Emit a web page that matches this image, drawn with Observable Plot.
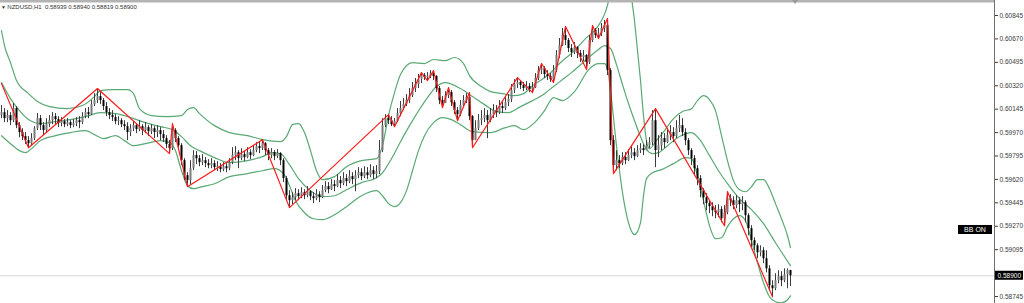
<!DOCTYPE html>
<html><head><meta charset="utf-8">
<script src="https://cdn.jsdelivr.net/npm/d3@7"></script>
<script src="https://cdn.jsdelivr.net/npm/@observablehq/plot@0.6"></script>
<style>html,body{margin:0;padding:0;background:#fff;overflow:hidden}#chart svg{display:block}</style>
</head><body><div id="chart"></div>
<script>
const symbol = "NZDUSD,H1";
const indicatorLabel = "BB ON";
const lastBar = {open: 0.58939, high: 0.58940, low: 0.58819, close: 0.58900};
const firstOpen = 0.60100;

const closes = [
0.60119,0.60074,0.60097,0.60059,0.60149,0.60022,0.59970,0.59940,0.59910,0.59887,
0.59925,0.59999,0.60074,0.60022,0.59985,0.60029,0.60059,0.60089,0.60067,0.60037,
0.60052,0.60029,0.60044,0.60022,0.60037,0.60059,0.60044,0.60089,0.60119,0.60104,
0.60179,0.60209,0.60239,0.60209,0.60164,0.60119,0.60097,0.60082,0.60052,0.60059,
0.60029,0.60014,0.59970,0.59999,0.60022,0.59992,0.60014,0.59985,0.60007,0.59977,
0.59999,0.59970,0.59985,0.59955,0.59925,0.59880,0.59850,0.59985,0.59925,0.59872,
0.59760,0.59648,0.59611,0.59700,0.59798,0.59775,0.59745,0.59760,0.59738,0.59723,
0.59738,0.59708,0.59715,0.59693,0.59715,0.59700,0.59745,0.59798,0.59820,0.59775,
0.59805,0.59783,0.59820,0.59798,0.59835,0.59865,0.59850,0.59887,0.59835,0.59798,
0.59820,0.59790,0.59813,0.59760,0.59626,0.59498,0.59461,0.59483,0.59513,0.59491,
0.59521,0.59498,0.59528,0.59491,0.59476,0.59506,0.59483,0.59536,0.59566,0.59543,
0.59581,0.59566,0.59611,0.59588,0.59626,0.59603,0.59641,0.59618,0.59648,0.59670,
0.59641,0.59670,0.59648,0.59685,0.59656,0.59678,0.59835,0.60022,0.60074,0.60059,
0.60029,0.60052,0.60112,0.60149,0.60179,0.60209,0.60246,0.60299,0.60329,0.60366,
0.60396,0.60381,0.60389,0.60411,0.60389,0.60299,0.60209,0.60187,0.60246,0.60269,
0.60194,0.60134,0.60104,0.60172,0.60209,0.60231,0.60089,0.59910,0.59999,0.60059,
0.60074,0.60097,0.60059,0.60104,0.60134,0.60119,0.60164,0.60149,0.60194,0.60217,
0.60284,0.60329,0.60344,0.60321,0.60299,0.60314,0.60291,0.60306,0.60374,0.60433,
0.60448,0.60404,0.60389,0.60366,0.60433,0.60546,0.60620,0.60695,0.60658,0.60598,
0.60568,0.60605,0.60561,0.60531,0.60546,0.60493,0.60658,0.60733,0.60695,0.60710,
0.60748,0.60770,0.60433,0.59910,0.59723,0.59760,0.59738,0.59783,0.59760,0.59798,
0.59820,0.59790,0.59835,0.59850,0.59835,0.59872,0.59895,0.60059,0.59835,0.59872,
0.59925,0.59895,0.59947,0.59970,0.59940,0.59999,0.60022,0.59970,0.59910,0.59835,
0.59775,0.59700,0.59626,0.59536,0.59483,0.59439,0.59416,0.59386,0.59371,0.59394,
0.59326,0.59371,0.59476,0.59461,0.59424,0.59461,0.59431,0.59446,0.59349,0.59252,
0.59162,0.59124,0.59072,0.59087,0.59027,0.58952,0.58825,0.58803,0.58863,0.58893,
0.58863,0.58907,0.58939,0.58900];

const highs = [
0.60172,0.60149,0.60134,0.60119,0.60187,0.60164,0.60044,0.59999,0.59970,0.59940,
0.59962,0.60014,0.60112,0.60097,0.60044,0.60074,0.60097,0.60119,0.60112,0.60089,
0.60082,0.60067,0.60074,0.60059,0.60067,0.60082,0.60089,0.60119,0.60149,0.60157,
0.60209,0.60261,0.60299,0.60269,0.60224,0.60194,0.60149,0.60134,0.60104,0.60089,
0.60074,0.60059,0.60044,0.60029,0.60052,0.60037,0.60059,0.60029,0.60044,0.60022,
0.60029,0.60014,0.60022,0.60007,0.59985,0.59947,0.59910,0.60037,0.59999,0.59940,
0.59887,0.59775,0.59670,0.59760,0.59835,0.59828,0.59798,0.59805,0.59783,0.59768,
0.59775,0.59760,0.59753,0.59738,0.59745,0.59738,0.59775,0.59857,0.59865,0.59835,
0.59850,0.59828,0.59857,0.59842,0.59872,0.59895,0.59902,0.59917,0.59895,0.59850,
0.59850,0.59835,0.59842,0.59820,0.59775,0.59641,0.59536,0.59521,0.59551,0.59543,
0.59558,0.59543,0.59566,0.59536,0.59521,0.59543,0.59528,0.59573,0.59603,0.59596,
0.59618,0.59611,0.59656,0.59641,0.59670,0.59656,0.59685,0.59670,0.59685,0.59708,
0.59700,0.59715,0.59708,0.59730,0.59715,0.59723,0.59910,0.60074,0.60104,0.60104,
0.60089,0.60074,0.60149,0.60202,0.60224,0.60254,0.60299,0.60344,0.60374,0.60404,
0.60418,0.60411,0.60418,0.60433,0.60433,0.60396,0.60314,0.60239,0.60276,0.60306,
0.60284,0.60209,0.60157,0.60209,0.60246,0.60261,0.60269,0.60097,0.60059,0.60104,
0.60134,0.60149,0.60134,0.60149,0.60179,0.60172,0.60209,0.60202,0.60231,0.60254,
0.60329,0.60366,0.60381,0.60359,0.60344,0.60351,0.60336,0.60344,0.60411,0.60463,
0.60486,0.60463,0.60433,0.60411,0.60471,0.60583,0.60673,0.60748,0.60762,0.60673,
0.60628,0.60643,0.60613,0.60583,0.60583,0.60553,0.60695,0.60770,0.60748,0.60748,
0.60785,0.60807,0.60822,0.60448,0.59947,0.59835,0.59798,0.59820,0.59820,0.59842,
0.59865,0.59850,0.59872,0.59887,0.59880,0.59910,0.59932,0.60134,0.60149,0.59947,
0.59970,0.59962,0.59999,0.60022,0.60007,0.60059,0.60097,0.60074,0.59999,0.59925,
0.59850,0.59798,0.59723,0.59648,0.59551,0.59513,0.59461,0.59446,0.59424,0.59431,
0.59416,0.59424,0.59528,0.59506,0.59491,0.59498,0.59483,0.59491,0.59461,0.59364,
0.59274,0.59184,0.59139,0.59124,0.59110,0.59087,0.58975,0.58863,0.58915,0.58937,
0.58930,0.58952,0.58952,0.58940];

const lows = [
0.60074,0.60044,0.60044,0.60022,0.60044,0.59999,0.59932,0.59910,0.59880,0.59857,
0.59872,0.59910,0.59985,0.59985,0.59947,0.59970,0.60007,0.60029,0.60029,0.60007,
0.60014,0.60007,0.60014,0.59999,0.60007,0.60014,0.59999,0.60029,0.60074,0.60074,
0.60097,0.60164,0.60187,0.60179,0.60134,0.60089,0.60067,0.60052,0.60029,0.60022,
0.60007,0.59985,0.59910,0.59940,0.59977,0.59962,0.59977,0.59947,0.59962,0.59940,
0.59955,0.59925,0.59932,0.59910,0.59895,0.59850,0.59813,0.59835,0.59895,0.59835,
0.59723,0.59611,0.59566,0.59581,0.59685,0.59730,0.59715,0.59723,0.59708,0.59700,
0.59700,0.59685,0.59678,0.59670,0.59678,0.59670,0.59685,0.59730,0.59760,0.59700,
0.59760,0.59753,0.59775,0.59768,0.59790,0.59820,0.59813,0.59835,0.59798,0.59760,
0.59775,0.59760,0.59775,0.59723,0.59596,0.59461,0.59409,0.59431,0.59461,0.59461,
0.59476,0.59469,0.59483,0.59461,0.59439,0.59461,0.59446,0.59476,0.59521,0.59513,
0.59536,0.59528,0.59558,0.59551,0.59573,0.59566,0.59588,0.59581,0.59528,0.59626,
0.59611,0.59626,0.59618,0.59633,0.59618,0.59626,0.59656,0.59820,0.60007,0.60029,
0.60014,0.60014,0.60044,0.60089,0.60134,0.60164,0.60187,0.60231,0.60269,0.60299,
0.60336,0.60359,0.60359,0.60374,0.60359,0.60269,0.60179,0.60157,0.60187,0.60224,
0.60164,0.60104,0.60059,0.60089,0.60157,0.60187,0.60059,0.59857,0.59910,0.59985,
0.60022,0.60044,0.59925,0.60044,0.60074,0.60082,0.60104,0.60112,0.60134,0.60164,
0.60194,0.60261,0.60299,0.60291,0.60276,0.60284,0.60269,0.60269,0.60299,0.60359,
0.60404,0.60374,0.60359,0.60344,0.60344,0.60418,0.60523,0.60613,0.60620,0.60568,
0.60531,0.60553,0.60523,0.60493,0.60501,0.60441,0.60478,0.60643,0.60673,0.60673,
0.60688,0.60718,0.60396,0.59872,0.59663,0.59685,0.59700,0.59723,0.59730,0.59753,
0.59775,0.59760,0.59783,0.59813,0.59798,0.59835,0.59850,0.59872,0.59708,0.59783,
0.59835,0.59850,0.59887,0.59910,0.59895,0.59925,0.59970,0.59940,0.59872,0.59798,
0.59723,0.59648,0.59573,0.59483,0.59431,0.59386,0.59364,0.59341,0.59326,0.59334,
0.59296,0.59274,0.59356,0.59416,0.59394,0.59401,0.59371,0.59386,0.59296,0.59199,
0.59110,0.59087,0.59027,0.59042,0.58990,0.58922,0.58788,0.58743,0.58788,0.58840,
0.58818,0.58848,0.58803,0.58819];

// ZigZag swing points (bar index, price)
const zigzagIndex = [0,9,32,56,57,62,87,96,129,131,140,142,144,147,149,152,156,157,172,177,180,184,188,195,197,199,202,204,218,241,242,257];
const zigzagPrice = [0.60336,0.59857,0.60299,0.59813,0.60037,0.59566,0.59917,0.59409,0.60104,0.60014,0.60418,0.60359,0.60433,0.60157,0.60306,0.60059,0.60269,0.59857,0.60381,0.60269,0.60486,0.60344,0.60762,0.60441,0.60770,0.60673,0.60822,0.59663,0.60149,0.59274,0.59528,0.58743];

// Bollinger bands read at bar indices
const upperIndex = [0,1,3,5,9,12,16,22,27,31,33,37,42,44,46,50,55,60,62,64,66,71,76,82,87,93,95,97,99,101,103,105,107,111,115,120,125,127,129,131,133,137,141,144,148,151,154,156,160,163,167,171,174,177,182,186,191,195,198,200,202,204,206,208,209,210,211,212,213,214,215,216,218,221,224,227,230,232,234,236,238,240,242,244,246,248,250,252,254,256,258,260,262,263];
const upperValue = [0.60733,0.60620,0.60493,0.60359,0.60261,0.60202,0.60164,0.60149,0.60172,0.60239,0.60284,0.60291,0.60291,0.60261,0.60149,0.60097,0.60089,0.60097,0.60142,0.60157,0.60112,0.60022,0.59970,0.59947,0.59917,0.59902,0.59940,0.60029,0.60037,0.59970,0.59835,0.59685,0.59618,0.59641,0.59715,0.59760,0.59775,0.59872,0.60097,0.60269,0.60404,0.60493,0.60486,0.60516,0.60508,0.60531,0.60486,0.60396,0.60314,0.60276,0.60261,0.60246,0.60261,0.60321,0.60396,0.60486,0.60583,0.60680,0.60740,0.60807,0.60920,0.61181,0.61518,0.61668,0.61331,0.60994,0.60807,0.60583,0.60359,0.60097,0.59910,0.59850,0.59902,0.59985,0.60074,0.60127,0.60149,0.60209,0.60246,0.60217,0.60134,0.59947,0.59760,0.59611,0.59543,0.59528,0.59566,0.59618,0.59618,0.59551,0.59439,0.59326,0.59199,0.59110];
const middleIndex = [0,3,6,9,13,18,23,28,33,38,43,48,53,57,60,63,66,71,76,82,87,90,93,96,99,103,107,111,115,120,125,127,130,133,137,142,145,148,153,157,161,165,169,173,177,181,184,187,190,195,199,201,203,205,207,209,211,213,215,217,219,222,226,230,233,236,239,242,246,250,254,258,263];
const middleValue = [0.60344,0.60224,0.60134,0.60067,0.60037,0.60052,0.60067,0.60089,0.60119,0.60112,0.60082,0.60044,0.60014,0.59992,0.59940,0.59872,0.59835,0.59783,0.59745,0.59760,0.59790,0.59820,0.59813,0.59730,0.59626,0.59536,0.59491,0.59498,0.59543,0.59596,0.59633,0.59670,0.59775,0.59902,0.60059,0.60231,0.60314,0.60344,0.60299,0.60239,0.60179,0.60127,0.60119,0.60164,0.60209,0.60261,0.60314,0.60366,0.60418,0.60516,0.60591,0.60620,0.60598,0.60478,0.60329,0.60187,0.60059,0.59940,0.59842,0.59813,0.59820,0.59872,0.59940,0.59970,0.59910,0.59798,0.59685,0.59588,0.59476,0.59394,0.59289,0.59147,0.58975];
const lowerIndex = [0,3,6,8,10,13,18,23,28,31,34,38,41,44,48,53,56,58,60,62,64,67,71,76,82,87,91,94,96,98,101,104,107,111,115,120,125,127,129,131,133,135,137,139,141,144,147,150,153,157,163,168,171,174,178,181,184,187,191,196,199,201,202,203,205,207,209,211,213,214,215,217,220,224,228,230,232,234,236,238,240,242,244,246,248,250,252,254,256,258,260,262,263];
const lowerValue = [0.59947,0.59887,0.59835,0.59820,0.59850,0.59910,0.59947,0.59970,0.59985,0.59955,0.59925,0.59947,0.59910,0.59872,0.59887,0.59910,0.59895,0.59835,0.59685,0.59573,0.59551,0.59566,0.59588,0.59641,0.59663,0.59685,0.59700,0.59663,0.59573,0.59461,0.59371,0.59326,0.59319,0.59356,0.59416,0.59498,0.59536,0.59498,0.59439,0.59416,0.59446,0.59536,0.59685,0.59835,0.59947,0.60044,0.60082,0.60067,0.60029,0.59977,0.59970,0.60007,0.60022,0.59992,0.60052,0.60134,0.60231,0.60209,0.60276,0.60448,0.60486,0.60486,0.60448,0.60284,0.59872,0.59521,0.59296,0.59207,0.59296,0.59498,0.59626,0.59670,0.59693,0.59738,0.59783,0.59775,0.59648,0.59461,0.59274,0.59177,0.59184,0.59267,0.59326,0.59349,0.59311,0.59162,0.58997,0.58848,0.58743,0.58706,0.58698,0.58721,0.58750];

// Price scale labels (the 0.58920 level sits under the current-price tag)
const priceTicks = [0.60845,0.60670,0.60495,0.60320,0.60145,0.59970,0.59795,0.59620,0.59445,0.59270,0.59095,0.58745];

// ---- build tables
const bars = closes.map((c, i) => ({i, open: i === 0 ? firstOpen : closes[i - 1], high: highs[i], low: lows[i], close: c}));
const pts = (idx, val) => idx.map((i, k) => ({i, v: val[k]}));
const upper = pts(upperIndex, upperValue), middle = pts(middleIndex, middleValue), lower = pts(lowerIndex, lowerValue);
const zigzag = pts(zigzagIndex, zigzagPrice);

const W = 1024, H = 303, MR = 30;
const FONT = "'Liberation Sans', Arial, sans-serif";
const green = "#5aa974";

const chart = Plot.plot({
  width: W, height: H,
  marginLeft: 0, marginRight: MR, marginTop: 0, marginBottom: 0,
  style: {background: "#fff", fontFamily: FONT, overflow: "visible"},
  x: {domain: [-1/3, 331], axis: null},
  y: {domain: [0.58745, 0.60845], range: [296, 15]},
  marks: [
    Plot.ruleY([lastBar.close], {stroke: "#d6d6d6", strokeWidth: 1}),
    Plot.line(upper, {x: "i", y: "v", stroke: green, strokeWidth: 1.2, curve: "monotone-x", clip: true}),
    Plot.line(middle, {x: "i", y: "v", stroke: green, strokeWidth: 1.2, curve: "monotone-x", clip: true}),
    Plot.line(lower, {x: "i", y: "v", stroke: green, strokeWidth: 1.2, curve: "monotone-x", clip: true}),
    Plot.ruleX(bars, {x: "i", y1: "low", y2: "high", stroke: "#3c3c3c", strokeWidth: 1, clip: true}),
    Plot.ruleX(bars, {x: "i", y1: "open", y2: "close", stroke: d => d.close >= d.open ? "#7a7a7a" : "#000", strokeWidth: 2, clip: true}),
    Plot.line(zigzag, {x: "i", y: "v", stroke: "#ff1a1a", strokeWidth: 1.2, clip: true}),
    Plot.axisY(priceTicks, {anchor: "right", tickSize: 3, tickPadding: 2, tickFormat: d => d.toFixed(5), fontSize: 6.5, fontFamily: FONT, color: "#3a3a3a", label: null})
  ]
});
document.getElementById("chart").appendChild(chart);

// ---- chart chrome (terminal-style overlays)
const svg = d3.select(chart);
const ys = chart.scale("y");
const axisX = W - MR;
svg.append("line").attr("x1", axisX + 0.5).attr("x2", axisX + 0.5).attr("y1", 0).attr("y2", H).attr("stroke", "#707070").attr("stroke-width", 1);
svg.append("rect").attr("x", 0).attr("y", 0).attr("width", axisX).attr("height", 2.5).attr("fill", "#b3b3b3");
svg.append("path").attr("d", "M792,0 L798,0 L795,4 Z").attr("fill", "#9a9a9a");

const title = svg.append("text").attr("x", 1).attr("y", 8.5).attr("text-anchor", "start")
  .attr("font-size", 6).attr("font-family", FONT).attr("fill", "#333");
title.append("tspan").attr("font-size", 5).text("\u25BC ");
title.append("tspan").text(`${symbol}  ${[lastBar.open, lastBar.high, lastBar.low, lastBar.close].map(d => d.toFixed(5)).join(" ")}`);

// current price tag
const py = ys.apply(lastBar.close);
svg.append("rect").attr("x", axisX + 1).attr("y", py - 4.5).attr("width", 28).attr("height", 9).attr("fill", "#000");
svg.append("text").attr("x", axisX + 3.5).attr("y", py + 2.4).attr("text-anchor", "start")
  .attr("font-size", 6.5).attr("font-family", FONT).attr("fill", "#fff").text(lastBar.close.toFixed(5));

// indicator status tag
svg.append("rect").attr("x", 958).attr("y", 225).attr("width", 34).attr("height", 9).attr("fill", "#000");
svg.append("text").attr("x", 975).attr("y", 232).attr("text-anchor", "middle")
  .attr("font-size", 7).attr("font-family", FONT).attr("fill", "#fff").text(indicatorLabel);
</script>
</body></html>
